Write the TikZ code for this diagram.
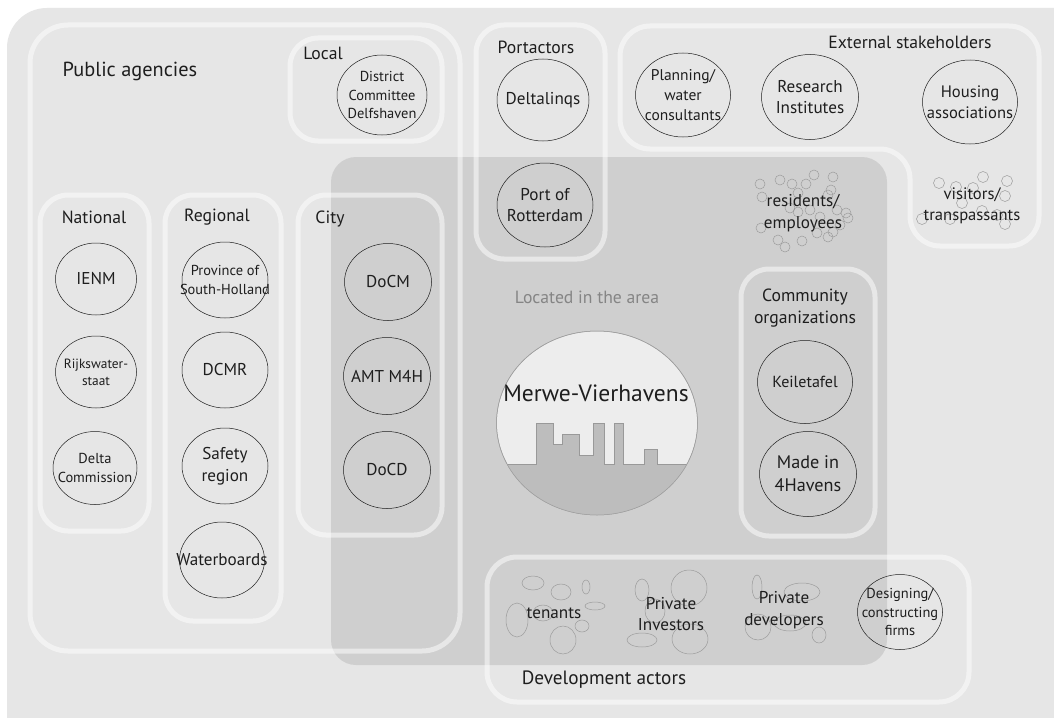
\documentclass[tikz,border=0pt]{standalone}
\usepackage{fontspec}
\setmainfont{PT Sans}
\usetikzlibrary{shapes.geometric}
\definecolor{outergray}{HTML}{E6E6E6}
\definecolor{areagray}{HTML}{CFCFCF}
\definecolor{crowdgray}{HTML}{9C9C9C}
\definecolor{groundgray}{HTML}{BDBDBD}
\definecolor{ink}{HTML}{1E1E1E}
\newcommand\fsz[1]{\fontsize{\fpeval{1.07*#1}pt}{\fpeval{1.36*#1}pt}\selectfont}
\tikzset{
  groupbox/.style={draw=white, draw opacity=0.5, line width=5pt, rounded corners=28pt},
  grouplabel/.style={text=ink, inner sep=0pt, align=center, font=\fsz{16.5}},
  actor/.style 2 args={ellipse, draw=ink, line width=0.5pt, inner sep=-40pt, align=center,
    text=ink, minimum width=#1pt, minimum height=#2pt},
  crowd/.style={draw=crowdgray, line width=0.5pt},
}
\begin{document}
\begin{tikzpicture}[x=1pt,y=-1pt]
\useasboundingbox (0,0) rectangle (1054,717);
\clip (0,0) rectangle (1054,717);

\fill[white] (0,0) rectangle (1054,717);
\fill[outergray, rounded corners=40pt] (7,8) rectangle (1100,760);
\fill[areagray, rounded corners=25pt] (331,157) rectangle (887,665);

% groups
\draw[groupbox, rounded corners=38pt] (30,25) rectangle (460,651);
\draw[groupbox] (290,38) rectangle (442,141);
\draw[groupbox] (476,25) rectangle (605,259);
\draw[groupbox, rounded corners=30pt] (800,26) -- (1039,26) -- (1039,246) -- (910,246)
  -- (910,149) -- (620,149) -- (620,26) -- cycle;
\draw[groupbox] (40,195) rectangle (149,531);
\draw[groupbox] (165,195) rectangle (281,621);
\draw[groupbox] (298,195) rectangle (442,535);
\draw[groupbox] (741,269) rectangle (875,536);
\draw[groupbox, rounded corners=30pt] (487,557) rectangle (969,702);

\node[grouplabel, font=\fsz{19}] (pubagencies) at (130,71) {Public agencies};
\node[grouplabel] (local) at (323,53) {Local};
\node[grouplabel] (portactors) at (536,47) {Portactors};
\node[grouplabel] (external) at (910,42) {External stakeholders};
\node[grouplabel] (national) at (94,217) {National};
\node[grouplabel] (regional) at (217,217) {Regional};
\node[grouplabel] (city) at (330,219) {City};
\node[grouplabel, text=black!48] (located) at (587,297) {Located in the area};
\node[grouplabel] (community) at (805,308) {Community\\organizations};
\node[grouplabel, font=\fsz{18}] (development) at (604,680) {Development actors};

% area
\draw[draw=black!38, fill=black!7, line width=0.5pt] (597,423) ellipse (100.5pt and 92pt);
\begin{scope}
\clip (597,423) ellipse (100.5pt and 92pt);
\fill[groundgray] (480,464) -- (536.7,464) -- (536.7,423.3) -- (553.3,423.3) -- (553.3,444)
  -- (562.7,444) -- (562.7,434) -- (579,434) -- (579,455.3) -- (593.3,455.3) -- (593.3,423.3)
  -- (604.3,423.3) -- (604.3,464) -- (614.3,464) -- (614.3,423.3) -- (623.3,423.3) -- (623.3,464)
  -- (644,464) -- (644,449) -- (657.3,449) -- (657.3,464) -- (720,464) -- (720,530) -- (480,530) -- cycle;
\draw[black!40, line width=0.6pt] (480,464) -- (536.7,464) -- (536.7,423.3) -- (553.3,423.3) -- (553.3,444)
  -- (562.7,444) -- (562.7,434) -- (579,434) -- (579,455.3) -- (593.3,455.3) -- (593.3,423.3)
  -- (604.3,423.3) -- (604.3,464) -- (614.3,464) -- (614.3,423.3) -- (623.3,423.3) -- (623.3,464)
  -- (644,464) -- (644,449) -- (657.3,449) -- (657.3,464) -- (720,464);
\end{scope}
\draw[draw=black!38, line width=0.5pt] (597,423) ellipse (100.5pt and 92pt);
\node[text=ink, inner sep=0pt, font=\fsz{22}] (merwe) at (596,393) {Merwe-Vierhavens};

% crowds
\foreach \cx/\cy in {760/184,780/180,792/184,806/184,814/175,833/177,831/190,762/197,828/195,
  837/210,846/213,848/218,761/228,778/240,785/247,802/241,817/233,828/237,833/232,820/217,
  798/212,810/210,790/208,840/225,798/193}
  \draw[crowd] (\cx,\cy) circle (5pt);
\foreach \cx/\cy in {939/183,956/187,973/188,983/177,1007/181,1005/196,962/203,922/219,950/219,
  982/211,1005/224,997/215}
  \draw[crowd] (\cx,\cy) circle (5.5pt);
\foreach \cx/\cy/\rx/\ry in {533/583/11/7,561/592/10/8,586/587/4/7,595/606/10/4,517/620/11/17,
  543/613/10/8,582/626/7/6,563/640/13/14,642/590/7/11,689/588/18/18,655/611/10/12,642/640/15/7,
  690/639/18/15,757/587/5/12,802/592/18/9,758/627/13/13,790/623/16/8,819/635/7/8}
  \draw[crowd] (\cx,\cy) ellipse (\rx pt and \ry pt);

\node[grouplabel, font=\fsz{16}] (residents) at (803,213) {residents/\\employees};
\node[grouplabel, font=\fsz{15.5}] (visitors) at (972,206) {visitors/\\transpassants};
\node[grouplabel, font=\fsz{16}] (tenants) at (554,613) {tenants};
\node[grouplabel, font=\fsz{16}] (investors) at (671,614) {Private\\Investors};
\node[grouplabel, font=\fsz{16}] (developers) at (784,610) {Private\\developers};

% actors
\node[actor={90}{80}, font=\fsz{13.5}] (district) at (382,95) {District\\Committee\\Delfshaven};
\node[actor={92}{82}, font=\fsz{16}] (deltalinqs) at (543,100) {Deltalinqs};
\node[actor={96}{84}, font=\fsz{16}] (rotterdam) at (545,205) {Port of\\Rotterdam};
\node[actor={95}{84}, font=\fsz{14.5}] (planning) at (683,95) {Planning/\\water\\consultants};
\node[actor={97}{85}, font=\fsz{16}] (research) at (810,97) {Research\\Institutes};
\node[actor={95}{84}, font=\fsz{15.5}] (housing) at (970,102) {Housing\\associations};
\node[actor={81}{72}, font=\fsz{16}] (ienm) at (96,279) {IENM};
\node[actor={81}{72}, font=\fsz{12.5}] (rijks) at (96,372) {Rijkswater-\\staat};
\node[actor={84}{73}, font=\fsz{13.5}] (delta) at (95,468) {Delta\\Commission};
\node[actor={86}{76}, font=\fsz{13.5}] (province) at (225,280) {Province of\\South-Holland};
\node[actor={86}{76}, font=\fsz{16}] (dcmr) at (225,370) {DCMR};
\node[actor={86}{76}, font=\fsz{16}] (safety) at (225,466) {Safety\\region};
\node[actor={85}{76}, font=\fsz{16}] (waterboards) at (222,560) {Waterboards};
\node[actor={87}{77}, font=\fsz{16}] (docm) at (388,282) {DoCM};
\node[actor={87}{77}, font=\fsz{16}] (amt) at (387,376) {AMT M4H};
\node[actor={87}{77}, font=\fsz{16}] (docd) at (387,470) {DoCD};
\node[actor={95}{83}, font=\fsz{15}] (keiletafel) at (805,382) {Keiletafel};
\node[actor={97}{85}, font=\fsz{17}] (madein) at (808,474) {Made in\\4Havens};
\node[actor={85}{75}, font=\fsz{13.5}] (designing) at (900,612) {Designing/\\constructing\\firms};
\end{tikzpicture}
\end{document}
